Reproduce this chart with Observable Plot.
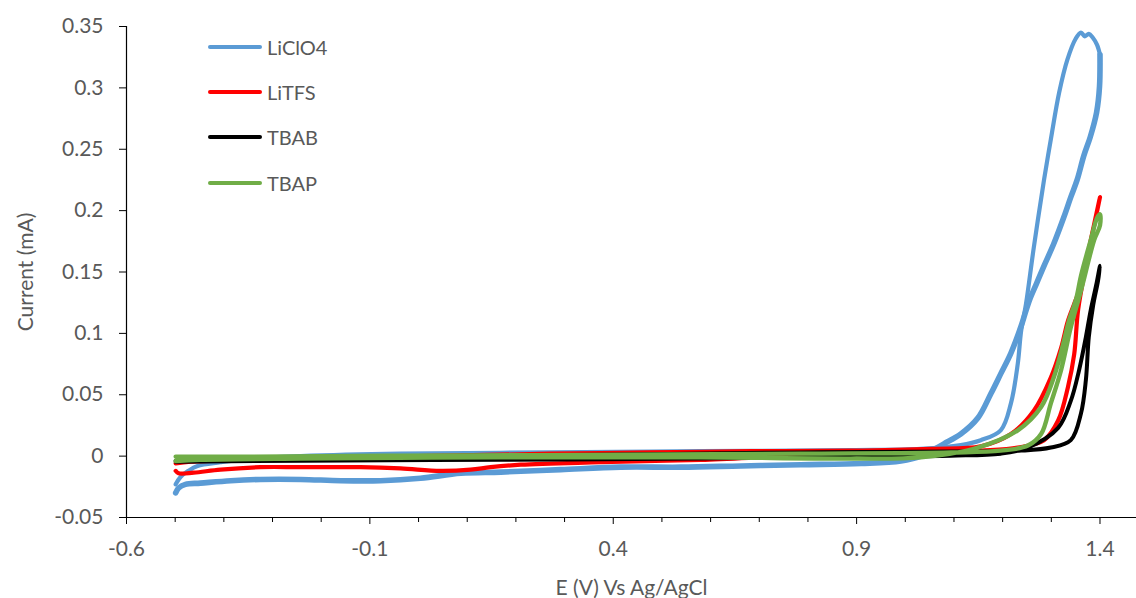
<!DOCTYPE html>
<html>
<head>
<meta charset="utf-8">
<script src="https://cdn.jsdelivr.net/npm/d3@7"></script>
<script src="https://cdn.jsdelivr.net/npm/@observablehq/plot@0.6"></script>
<style>
  html, body { margin: 0; padding: 0; background: #ffffff; }
  #wrap { position: relative; width: 1136px; height: 598px; font-family: Lato, "Open Sans", sans-serif; }
  #legend { position: absolute; left: 208px; top: 24px; }
  .row { display: flex; align-items: center; height: 45.3px; font-size: 20px; color: #595959; }
  .sw { width: 54px; height: 4px; border-radius: 2px; margin-right: 5px; }
</style>
</head>
<body>
<div id="wrap"><div id="legend"></div></div>
<script>
// ---- categories / styles ----
const seriesNames = ["LiClO4", "LiTFS", "TBAB", "TBAP"];
const seriesColors = ["#5B9BD5", "#FF0000", "#000000", "#70AD47"];

// ---- tick values and labels ----
const xTicks = [-0.6, -0.1, 0.4, 0.9, 1.4];
const xTickLabels = ["-0.6", "-0.1", "0.4", "0.9", "1.4"];
const xMinorTicks = [-0.5, -0.4, -0.3, -0.2, 0.0, 0.1, 0.2, 0.3, 0.5, 0.6, 0.7, 0.8, 1.0, 1.1, 1.2, 1.3];
const yTicks = [-0.05, 0, 0.05, 0.1, 0.15, 0.2, 0.25, 0.3, 0.35];
const yTickLabels = ["-0.05", "0", "0.05", "0.1", "0.15", "0.2", "0.25", "0.3", "0.35"];

// ---- LiClO4: anodic (noisy) scan and return scan ----
const liclo4FwdE = [-0.499,-0.493,-0.479,-0.448,-0.386,-0.325,-0.242,-0.160,-0.078,0.004,0.087,0.169,0.292,0.415,0.539,0.662,0.785,0.909,0.991,1.032,1.079,1.114,1.149,1.176,1.196,1.217,1.238,1.246,1.256,1.270,1.285,1.305,1.326,1.340,1.353,1.367,1.380,1.393,1.399,1.400];
const liclo4FwdI = [-0.030,-0.026,-0.023,-0.022,-0.020,-0.019,-0.019,-0.020,-0.020,-0.018,-0.014,-0.013,-0.011,-0.009,-0.009,-0.008,-0.007,-0.006,-0.004,0.000,0.010,0.018,0.031,0.051,0.067,0.084,0.106,0.116,0.128,0.141,0.155,0.173,0.195,0.211,0.225,0.245,0.260,0.280,0.301,0.327];
const liclo4RevE = [1.400,1.394,1.385,1.377,1.369,1.361,1.350,1.333,1.316,1.299,1.285,1.264,1.248,1.238,1.231,1.217,1.196,1.155,1.114,1.032,0.888,0.580,0.272,-0.037,-0.242,-0.345,-0.407,-0.454,-0.473,-0.489,-0.499];
const liclo4RevI = [0.327,0.335,0.341,0.344,0.342,0.345,0.340,0.323,0.296,0.258,0.225,0.170,0.124,0.102,0.075,0.043,0.021,0.013,0.009,0.006,0.005,0.004,0.003,0.002,0.000,-0.002,-0.005,-0.008,-0.012,-0.017,-0.023];

// ---- LiTFS ----
const litfsE = [-0.499,-0.468,-0.345,-0.140,0.066,0.272,0.477,0.683,0.888,1.053,1.155,1.217,1.264,1.299,1.320,1.334,1.347,1.361,1.381,1.400,1.388,1.371,1.355,1.347,1.334,1.314,1.285,1.231,1.155,0.991,0.785,0.580,0.374,0.210,0.148,0.107,0.045,-0.037,-0.119,-0.242,-0.325,-0.407,-0.462,-0.493,-0.499];
const litfsI = [-0.006,-0.0045,-0.003,-0.001,0.0004,0.002,0.003,0.004,0.0045,0.006,0.008,0.018,0.037,0.064,0.088,0.110,0.124,0.139,0.176,0.211,0.188,0.155,0.119,0.083,0.056,0.029,0.013,0.007,0.0045,0.002,0.0004,-0.003,-0.005,-0.007,-0.009,-0.011,-0.012,-0.010,-0.009,-0.009,-0.009,-0.011,-0.0135,-0.014,-0.012];

// ---- TBAB ----
const tbabE = [-0.499,-0.242,0.169,0.580,0.888,1.094,1.196,1.252,1.314,1.340,1.357,1.371,1.381,1.392,1.400,1.396,1.386,1.377,1.371,1.361,1.340,1.299,1.238,1.094,0.785,0.374,-0.037,-0.345,-0.499];
const tbabI = [-0.0045,-0.0037,-0.003,-0.002,-0.0004,0.0004,0.002,0.007,0.023,0.045,0.070,0.097,0.119,0.139,0.155,0.143,0.123,0.097,0.062,0.035,0.013,0.007,0.0045,0.0037,0.003,0.0012,-0.0004,-0.002,-0.0037];

// ---- TBAP ----
const tbapE = [-0.499,-0.448,-0.242,0.169,0.580,0.888,1.032,1.141,1.231,1.279,1.305,1.326,1.336,1.351,1.361,1.381,1.394,1.400,1.400,1.388,1.361,1.340,1.320,1.299,1.279,1.252,1.196,1.094,0.785,0.374,-0.037,-0.345,-0.499];
const tbapI = [-0.004,-0.003,-0.002,-0.001,-0.001,-0.002,-0.001,0.006,0.021,0.040,0.064,0.094,0.110,0.128,0.147,0.176,0.194,0.197,0.188,0.176,0.135,0.105,0.070,0.043,0.018,0.0086,0.0045,0.003,0.002,0.001,0.0004,-0.0004,-0.0004];

function rows(E, I) { return E.map((e, k) => ({E: e, I: I[k]})); }

const lineOpts = (color, w) => ({x: "E", y: "I", stroke: color, strokeWidth: w, curve: "catmull-rom", strokeLinejoin: "round", strokeLinecap: "round"});

const font = 'Lato, "Open Sans", sans-serif';

const chart = Plot.plot({
  width: 1136,
  height: 598,
  marginTop: 26,
  marginBottom: 81,
  marginLeft: 126,
  marginRight: 0,
  style: {fontFamily: font, fontSize: "21px", background: "white", overflow: "visible"},
  x: {domain: [-0.6, 1.475]},
  y: {domain: [-0.05, 0.35]},
  marks: [
    Plot.axisX({ticks: xMinorTicks, tickSize: 5, text: null, label: null, stroke: "#000"}),
    Plot.axisX({ticks: xTicks, tickSize: 7, tickPadding: 17, tickFormat: d => xTickLabels[xTicks.indexOf(d)],
      stroke: "#000", fill: "#595959", label: "E (V) Vs Ag/AgCl", labelAnchor: "center", labelArrow: "none", labelOffset: 77, fontSize: 21}),
    Plot.axisY({ticks: yTicks, tickSize: 7, tickPadding: 16, tickFormat: d => yTickLabels[yTicks.indexOf(d)],
      stroke: "#000", fill: "#595959", label: "Current (mA)", labelAnchor: "center", labelArrow: "none", labelOffset: 108, fontSize: 21}),
    Plot.ruleY([-0.05], {stroke: "#000", strokeWidth: 1.2}),
    Plot.ruleX([-0.6], {stroke: "#000", strokeWidth: 1.2}),
    Plot.line(rows(liclo4FwdE, liclo4FwdI), lineOpts(seriesColors[0], 5.6)),
    Plot.line(rows(liclo4RevE, liclo4RevI), lineOpts(seriesColors[0], 4.2)),
    Plot.line(rows(litfsE, litfsI), lineOpts(seriesColors[1], 4.2)),
    Plot.line(rows(tbabE, tbabI), lineOpts(seriesColors[2], 4.0)),
    Plot.line(rows(tbapE, tbapI), lineOpts(seriesColors[3], 4.4))
  ]
});
document.getElementById("wrap").prepend(chart);

// ---- legend (inside plot area, top-left) ----
const legend = document.getElementById("legend");
seriesNames.forEach((name, k) => {
  const row = document.createElement("div");
  row.className = "row";
  const sw = document.createElement("span");
  sw.className = "sw";
  sw.style.background = seriesColors[k];
  const lab = document.createElement("span");
  lab.textContent = name;
  row.append(sw, lab);
  legend.append(row);
});
</script>
</body>
</html>
